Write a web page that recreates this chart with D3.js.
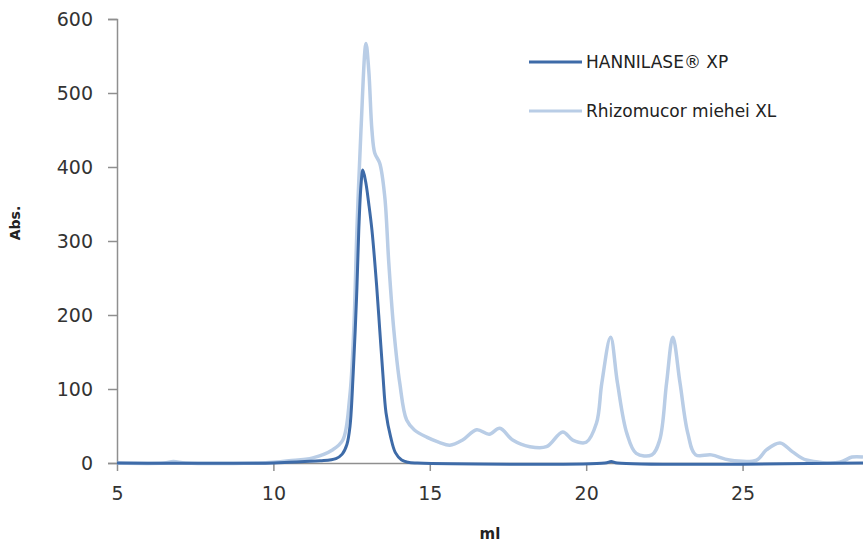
<!DOCTYPE html>
<html>
<head>
<meta charset="utf-8">
<script src="https://cdn.jsdelivr.net/npm/d3@7"></script>
<style>
  html, body { margin: 0; padding: 0; background: #fff; }
  svg { display: block; font-family: "DejaVu Sans", sans-serif; }
</style>
</head>
<body>
<div id="chart"></div>
<script>
const width = 863;
const height = 542;

// elution volume (ml) / absorbance
const hannilaseMl = [5, 10, 10.5, 11, 11.5, 12.0, 12.2, 12.35, 12.45, 12.55, 12.66, 12.73, 12.8, 12.86, 12.95, 13.05, 13.15, 13.3, 13.4, 13.5, 13.6, 13.75, 13.9, 14.1, 14.3, 14.6, 20.6, 20.8, 21.0, 28.85];
const hannilaseAbs = [0, 0, 1, 2, 3, 6, 12, 25, 50, 120, 225, 315, 375, 396, 380, 350, 315, 240, 180, 120, 68, 35, 14, 4, 1, 0, 0, 2, 0, 0];

const rhizoMl = [5, 6.5, 6.8, 7.2, 9.5, 10.0, 10.5, 11.26, 11.9, 12.22, 12.44, 12.57, 12.67, 12.8, 12.96, 13.05, 13.15, 13.24, 13.4, 13.56, 13.69, 13.85, 14.04, 14.26, 14.5, 14.9, 15.3, 15.64, 16.05, 16.5, 16.9, 17.24, 17.65, 18.2, 18.73, 19.25, 19.57, 20.0, 20.33, 20.5, 20.78, 21.0, 21.3, 21.6, 22.1, 22.35, 22.57, 22.77, 23.0, 23.25, 23.5, 24.0, 24.58, 25.45, 25.77, 26.2, 26.6, 27.04, 28.1, 28.5, 28.85];
const rhizoAbs = [0, 0, 2, 0, 0, 1, 3, 7, 18, 31, 89, 180, 315, 450, 567, 530, 450, 419, 405, 360, 270, 180, 108, 58, 45, 35, 28, 24, 31, 45, 39, 47, 31, 22, 22, 42, 31, 28, 54, 108, 170, 108, 40, 13, 11, 31, 108, 170, 108, 40, 11, 11, 4, 4, 18, 27, 15, 4, 1, 8, 8];

const seriesNames = ["HANNILASE® XP", "Rhizomucor miehei XL"];
const seriesColors = ["#3e6ba8", "#b9cde6"];
const xTicks = [5, 10, 15, 20, 25];
const yTicks = [0, 100, 200, 300, 400, 500, 600];

const margin = { top: 19, right: 0, bottom: 79, left: 117 };

const x = d3.scaleLinear().domain([5, 28.85]).range([margin.left, width - margin.right]);
const y = d3.scaleLinear().domain([0, 600]).range([height - margin.bottom, margin.top]);

const svg = d3.select("#chart")
  .append("svg")
  .attr("width", width)
  .attr("height", height);

const axisColor = "#8f8f8f";
const textColor = "#333";

// y axis
const yAxis = svg.append("g")
  .attr("transform", `translate(${margin.left},0)`)
  .call(d3.axisLeft(y).tickValues(yTicks).tickSize(9).tickPadding(15));
yAxis.select(".domain").attr("stroke", axisColor).attr("stroke-width", 1.5);
yAxis.selectAll(".tick line").attr("stroke", axisColor).attr("stroke-width", 1.5);
yAxis.selectAll(".tick text").attr("fill", textColor).attr("font-size", 19).attr("dy", "0.34em")
  .attr("font-family", "DejaVu Sans, sans-serif");

// x axis
const xAxis = svg.append("g")
  .attr("transform", `translate(0,${y(0)})`)
  .call(d3.axisBottom(x).tickValues(xTicks).tickSize(8).tickPadding(16).tickSizeOuter(0));
xAxis.select(".domain").attr("stroke", axisColor).attr("stroke-width", 1.5);
xAxis.selectAll(".tick line").attr("stroke", axisColor).attr("stroke-width", 1.5);
xAxis.selectAll(".tick text").attr("fill", textColor).attr("font-size", 19)
  .attr("font-family", "DejaVu Sans, sans-serif");

// axis titles
svg.append("text")
  .attr("transform", `translate(20,223) rotate(-90)`)
  .attr("text-anchor", "middle")
  .attr("font-size", 14)
  .attr("font-weight", "bold")
  .attr("fill", "#222")
  .text("Abs.");

svg.append("text")
  .attr("x", 490)
  .attr("y", 539)
  .attr("text-anchor", "middle")
  .attr("font-size", 15)
  .attr("font-weight", "bold")
  .attr("fill", "#222")
  .text("ml");

const line = d3.line()
  .x((d) => x(d[0]))
  .y((d) => y(d[1]))
  .curve(d3.curveCatmullRom.alpha(0.5));

const rhizo = rhizoMl.map((v, i) => [v, rhizoAbs[i]]);
const hannilase = hannilaseMl.map((v, i) => [v, hannilaseAbs[i]]);

svg.append("path")
  .datum(rhizo)
  .attr("fill", "none")
  .attr("stroke", seriesColors[1])
  .attr("stroke-width", 3.5)
  .attr("stroke-linejoin", "round")
  .attr("d", line);

svg.append("path")
  .datum(hannilase)
  .attr("fill", "none")
  .attr("stroke", seriesColors[0])
  .attr("stroke-width", 3)
  .attr("stroke-linejoin", "round")
  .attr("d", line);

// legend
const legend = svg.append("g").attr("transform", "translate(529,62)");
seriesNames.forEach((name, i) => {
  const g = legend.append("g").attr("transform", `translate(0,${i * 49})`);
  g.append("line")
    .attr("x1", 0).attr("x2", 53)
    .attr("stroke", seriesColors[i])
    .attr("stroke-width", 3);
  g.append("text")
    .attr("x", 57)
    .attr("dy", "0.35em")
    .attr("font-size", 17)
    .attr("fill", "#222")
    .text(name);
});
</script>
</body>
</html>
